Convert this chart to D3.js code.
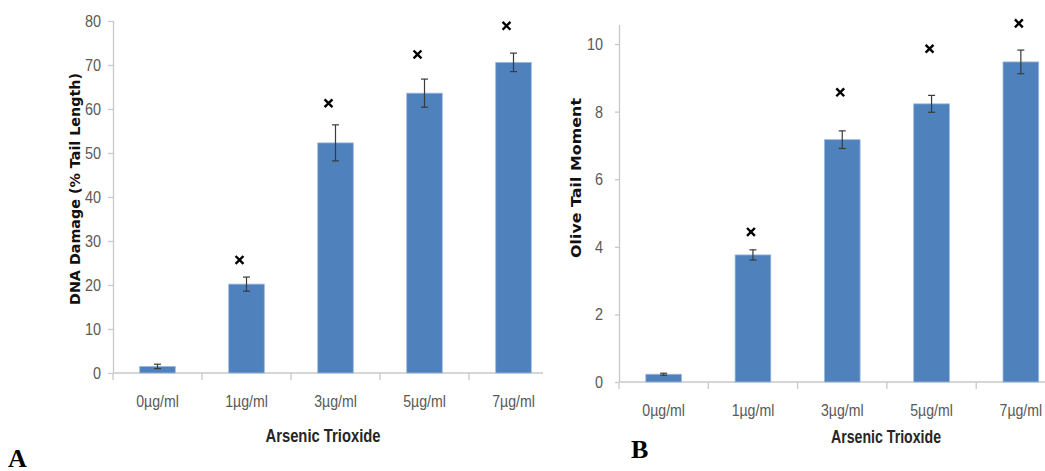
<!DOCTYPE html>
<html>
<head>
<meta charset="utf-8">
<script src="https://cdn.jsdelivr.net/npm/d3@7"></script>
<style>
  html, body { margin: 0; padding: 0; background: #fff; }
  svg { display: block; }
  .tick-lab { font-family: "Liberation Sans", Arial, sans-serif; font-size: 17px; fill: #595959; }
  .xtitle { font-family: "Liberation Sans", Arial, sans-serif; font-size: 18px; font-weight: bold; fill: #262626; }
  .ytitle { font-family: "DejaVu Sans", Verdana, sans-serif; font-size: 14px; font-weight: bold; fill: #111; }
  .panel { font-family: "Liberation Serif", "Times New Roman", serif; font-size: 26px; font-weight: bold; fill: #000; }
</style>
</head>
<body>
<script>
// ---- data ----
const categories = ["0µg/ml", "1µg/ml", "3µg/ml", "5µg/ml", "7µg/ml"];
const dnaDamage  = [1.5, 20.2, 52.3, 63.6, 70.6];
const dnaError   = [0.5, 1.6, 4.1, 3.2, 2.1];
const dnaSig     = [null, 25.7, 61.3, 72.4, 78.9];
const dnaTicks   = [0, 10, 20, 30, 40, 50, 60, 70, 80];

const oliveTM    = [0.23, 3.76, 7.17, 8.23, 9.47];
const oliveError = [0.03, 0.15, 0.26, 0.25, 0.35];
const oliveSig   = [null, 4.44, 8.57, 9.86, 10.61];
const oliveTicks = [0, 2, 4, 6, 8, 10];

const W = 1045, H = 471;
const svg = d3.select("body").append("svg").attr("width", W).attr("height", H);

// emulate a condensed face by narrowing real text horizontally
function narrow(sel, f) {
  sel.each(function () {
    const n = this.getComputedTextLength();
    d3.select(this).attr("textLength", n * f).attr("lengthAdjust", "spacingAndGlyphs");
  });
}

function panel(cfg) {
  const g = svg.append("g");
  const x = d3.scaleBand().domain(categories).range([cfg.x0, cfg.x1]).padding(0);
  const y = d3.scaleLinear().domain([0, cfg.ymax]).range([cfg.yBottom, cfg.yTop]);
  const bw = x.bandwidth();
  const cx = c => x(c) + bw / 2;
  const rows = categories.map((c, i) => ({ c, v: cfg.values[i], e: cfg.errors[i], s: cfg.sig[i] }));

  // y axis
  const yAxis = d3.axisLeft(y).tickValues(cfg.ticks).tickSize(cfg.yTickSize).tickPadding(cfg.yTickPad).tickSizeOuter(0);
  const ya = g.append("g").attr("transform", `translate(${cfg.x0},0)`).call(yAxis);
  ya.select(".domain").attr("stroke", "#c8c8c8").attr("stroke-width", 1.3)
    .attr("d", `M0.5,${cfg.axisTop}V${cfg.yBottom}`);
  ya.selectAll(".tick line").attr("stroke", "#c8c8c8").attr("stroke-width", 1.3);
  ya.selectAll(".tick text").attr("class", "tick-lab").attr("fill", null).call(narrow, 0.85);

  // x axis line
  g.append("line").attr("x1", cfg.x0).attr("x2", cfg.xLineEnd)
    .attr("y1", cfg.yBottom).attr("y2", cfg.yBottom)
    .attr("stroke", "#c8c8c8").attr("stroke-width", 1.3);
  // boundary ticks
  g.selectAll(".bt").data(categories).join("line")
    .attr("x1", c => x(c)).attr("x2", c => x(c))
    .attr("y1", cfg.yBottom).attr("y2", cfg.yBottom + 7)
    .attr("stroke", "#c8c8c8").attr("stroke-width", 1.3);

  // x labels
  const xAxis = d3.axisBottom(x).tickSize(0).tickPadding(cfg.xLabPad);
  const xa = g.append("g").attr("transform", `translate(0,${cfg.yBottom})`).call(xAxis);
  xa.select(".domain").remove();
  xa.selectAll(".tick text").attr("class", "tick-lab").attr("fill", null).call(narrow, 0.83);

  // bars
  g.selectAll(".bar").data(rows).join("rect")
    .attr("x", d => x(d.c) + bw * 0.3)
    .attr("width", bw * 0.4)
    .attr("y", d => y(d.v))
    .attr("height", d => y(0) - y(d.v))
    .attr("fill", "#4F81BD")
    .attr("stroke", "#9dbbe0").attr("stroke-width", 0.8);

  // error bars
  const eb = g.selectAll(".err").data(rows).join("g").attr("stroke", "#3a3a3a").attr("stroke-width", 1.2);
  eb.append("line").attr("x1", d => cx(d.c)).attr("x2", d => cx(d.c))
    .attr("y1", d => y(d.v + d.e)).attr("y2", d => y(d.v - d.e));
  eb.append("line").attr("x1", d => cx(d.c) - 3.5).attr("x2", d => cx(d.c) + 3.5)
    .attr("y1", d => y(d.v + d.e)).attr("y2", d => y(d.v + d.e));
  eb.append("line").attr("x1", d => cx(d.c) - 3.5).attr("x2", d => cx(d.c) + 3.5)
    .attr("y1", d => y(d.v - d.e)).attr("y2", d => y(d.v - d.e));

  // significance markers
  g.selectAll(".sig").data(rows.filter(d => d.s != null)).join("path")
    .attr("d", d3.symbol(d3.symbolTimes, 42))
    .attr("transform", d => `translate(${cx(d.c) + cfg.sigDx},${y(d.s)})`)
    .attr("stroke", "#000").attr("stroke-width", 2.4).attr("fill", "none");

  // titles
  g.append("text").attr("class", "xtitle").attr("text-anchor", "middle")
    .attr("x", cfg.xtX).attr("y", cfg.xtY).text("Arsenic Trioxide")
    .attr("textLength", cfg.xtLen).attr("lengthAdjust", "spacingAndGlyphs");
  g.append("text").attr("class", "ytitle").attr("text-anchor", "middle")
    .attr("transform", `translate(${cfg.ytX},${cfg.ytY}) rotate(-90)`)
    .attr("dy", "0.35em").text(cfg.ytitle)
    .attr("textLength", cfg.ytLen).attr("lengthAdjust", "spacingAndGlyphs");
  g.append("text").attr("class", "panel").attr("x", cfg.pX).attr("y", cfg.pY).text(cfg.plabel);
}

panel({
  x0: 113, x1: 558, xLineEnd: 543, yTop: 21, yBottom: 373, ymax: 80, axisTop: 21,
  values: dnaDamage, errors: dnaError, sig: dnaSig, ticks: dnaTicks,
  yTickSize: 5, yTickPad: 7, xLabPad: 22, sigDx: -7,
  xtX: 323, xtY: 442, xtLen: 115, ytX: 75, ytY: 189, ytLen: 232, ytitle: "DNA Damage (% Tail Length)",
  pX: 8, pY: 467, plabel: "A"
});

panel({
  x0: 619, x1: 1065.5, xLineEnd: 1045, yTop: 382 - 10 * 33.8, yBottom: 382, ymax: 10, axisTop: 25,
  values: oliveTM, errors: oliveError, sig: oliveSig, ticks: oliveTicks,
  yTickSize: 4, yTickPad: 12, xLabPad: 22, sigDx: -2,
  xtX: 886, xtY: 443, xtLen: 110, ytX: 576, ytY: 178, ytLen: 160, ytitle: "Olive Tail Moment",
  pX: 631, pY: 458, plabel: "B"
});
</script>
</body>
</html>
